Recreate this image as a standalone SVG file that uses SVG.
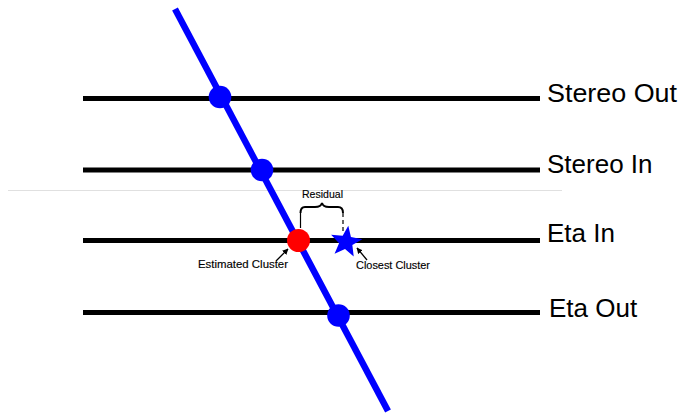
<svg xmlns="http://www.w3.org/2000/svg" width="686" height="415" viewBox="0 0 686 415">
<defs>
<style>
.layer{stroke:#000;stroke-width:5;fill:none}
.lbl{font-family:"Liberation Sans",Arial,sans-serif;font-size:26px;fill:#000}
.small{font-family:"Liberation Sans",Arial,sans-serif;font-size:11px;fill:#000;stroke:#000;stroke-width:0.15}
.hit{fill:#0000ff}
.ptr{stroke:#000;stroke-width:1.3;fill:none;marker-end:url(#ah)}
</style>
<marker id="ah" viewBox="0 0 10 10" refX="9" refY="5" markerWidth="6" markerHeight="6" orient="auto" markerUnits="userSpaceOnUse">
<path d="M0,0 L10,5 L0,10 z" fill="#000"/>
</marker>
</defs>
<rect width="686" height="415" fill="#fff"/>
<line x1="8" y1="190.5" x2="562" y2="190.5" stroke="#e0e0e0" stroke-width="1.2"/>
<g id="layers">
<g id="stereo-out"><line class="layer" x1="83" y1="98.5" x2="540" y2="98.5"/><text class="lbl" x="547" y="102" textLength="130" lengthAdjust="spacingAndGlyphs">Stereo Out</text></g>
<g id="stereo-in"><line class="layer" x1="83" y1="170" x2="540" y2="170"/><text class="lbl" x="547" y="173">Stereo In</text></g>
<g id="eta-in"><line class="layer" x1="83" y1="240.5" x2="540" y2="240.5"/><text class="lbl" x="547" y="242">Eta In</text></g>
<g id="eta-out"><line class="layer" x1="83" y1="312.5" x2="540" y2="312.5"/><text class="lbl" x="549" y="317">Eta Out</text></g>
</g>
<g id="connectors">
<line id="track" x1="175" y1="9" x2="388" y2="411" stroke="#0000ff" stroke-width="6.5"/>
<line class="ptr" x1="276" y1="261" x2="288" y2="249"/>
<line class="ptr" x1="367" y1="260" x2="357" y2="248"/>
</g>
<g id="hits">
<circle class="hit" cx="220" cy="97" r="11.3"/>
<circle class="hit" cx="262" cy="170" r="11.3"/>
<circle class="hit" cx="338.5" cy="315.5" r="11.3"/>
</g>
<g id="estimated-cluster">
<circle cx="298.5" cy="240.5" r="11.5" fill="#ff0000"/>
<text class="small" x="198" y="268" textLength="90" lengthAdjust="spacingAndGlyphs">Estimated Cluster</text>
</g>
<g id="closest-cluster">
<polygon fill="#0000ff" transform="translate(346,242) rotate(8) scale(1.1)" points="0,-15 3.8,-5.2 14.3,-4.6 6.1,2 8.8,12.1 0,6.4 -8.8,12.1 -6.1,2 -14.3,-4.6 -3.8,-5.2"/>
<text class="small" x="356" y="269" textLength="74" lengthAdjust="spacingAndGlyphs">Closest Cluster</text>
</g>
<g id="residual">
<path d="M300.5,213 Q300.5,207 305,207 L315,207 Q321,207 322,203 Q323,207 329,207 L338,207 Q343,207 343,213" fill="none" stroke="#000" stroke-width="2"/>
<line x1="300.5" y1="213" x2="300.5" y2="228" stroke="#000" stroke-width="1.2"/>
<line x1="343" y1="213" x2="343" y2="232" stroke="#000" stroke-width="1.2" stroke-dasharray="4,3"/>
<text class="small" x="302" y="198" textLength="41" lengthAdjust="spacingAndGlyphs">Residual</text>
</g>
</svg>
